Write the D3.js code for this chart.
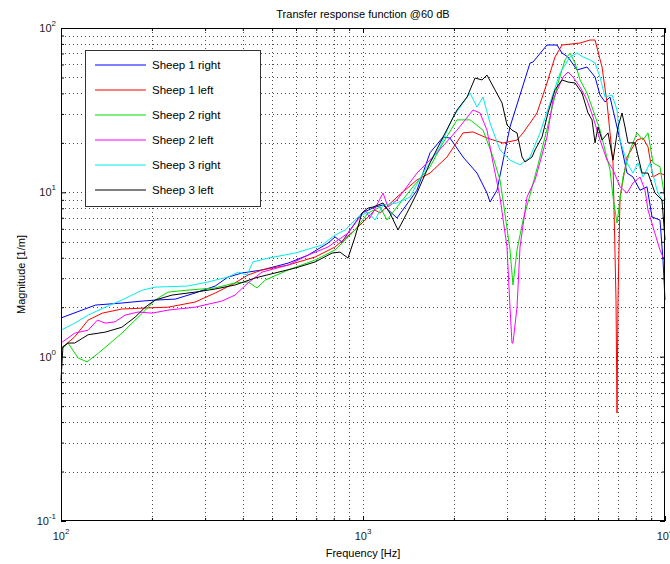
<!DOCTYPE html>
<html>
<head>
<meta charset="utf-8">
<script src="https://cdn.jsdelivr.net/npm/d3@7"></script>
<style>
  body { margin: 0; background: #fff; }
  svg { font-family: "Liberation Sans", Arial, sans-serif; }
</style>
</head>
<body>
<div id="chart"></div>
<script>
// series names and colours (matlab defaults b r g m c k)
var seriesNames = ["Sheep 1 right", "Sheep 1 left", "Sheep 2 right", "Sheep 2 left", "Sheep 3 right", "Sheep 3 left"];
var seriesColors = ["#0000ff", "#ff0000", "#00dd00", "#ff00ff", "#00eeee", "#000000"];

// [frequency Hz, magnitude]
var sheep1Right = [[100,1.72],[130,2.06],[159,2.12],[186,2.18],[205,2.21],[239,2.24],[278,2.44],[324,2.69],[357,3.05],[398,3.23],[463,3.37],[565,3.71],[658,4.15],[766,4.91],[808,5.35],[852,4.99],[892,5.65],[992,7.48],[1096,8.14],[1165,8.37],[1296,6.98],[1509,10.3],[1667,17.4],[1841,21.7],[1941,21.4],[2144,16.4],[2385,13.1],[2574,9.9],[2634,8.73],[2778,10.3],[3067,25],[3573,61.2],[3656,62.1],[4067,78.8],[4390,78.8],[4560,70.4],[4774,66.6],[5114,55.5],[5518,57.9],[5866,50.3],[6093,39.1],[6330,35.5],[6576,38],[7097,20.8],[7486,13.1],[7834,12.4],[8265,10.3],[8718,10.8],[9057,7.08],[9625,6.78],[9849,3.87],[10000,2.21]];
var sheep1Left = [[100,1.12],[111,1.32],[123,1.67],[137,1.84],[159,1.95],[194,1.98],[226,2.0],[278,2.15],[324,2.44],[377,2.81],[416,3.14],[463,3.37],[565,3.61],[694,4.04],[808,4.65],[941,5.9],[1096,7.8],[1139,7.48],[1296,9.36],[1509,11.9],[1667,13.1],[1897,16.4],[2144,23],[2314,23.3],[2574,21.4],[2908,19.95],[3236,20.8],[3388,23],[3573,26.4],[3768,30.4],[4067,46.3],[4323,66.6],[4560,78.8],[5232,81],[5646,84.5],[5866,84.5],[6187,57.9],[6428,35],[6576,23],[6728,15.1],[6884,2.2],[6936,0.454],[6989,2.2],[7097,9.36],[7486,16.4],[8077,20.8],[8456,21.4],[8785,18.9],[9127,12.4],[9625,13.1],[10000,12.7]];
var sheep2Right = [[100,1.10],[105.5,1.21],[114,0.98],[122,0.93],[133,1.05],[159,1.39],[186,1.84],[205,2.21],[226,2.47],[263,2.54],[324,2.62],[377,2.81],[416,2.85],[446,2.62],[474,2.92],[565,3.37],[694,3.87],[808,4.46],[941,5.9],[1039,7.48],[1139,8.14],[1201,6.78],[1296,8.14],[1464,10.8],[1667,14.3],[1841,20],[2048,27.6],[2262,27.6],[2497,23.9],[2695,16.4],[2842,11.9],[2908,8.98],[3067,4.46],[3138,2.73],[3236,4.46],[3388,6.78],[3573,9.64],[3856,16.4],[4161,28.7],[4423,46.3],[4666,63.9],[4847,70.4],[5036,61.2],[5232,48.3],[5518,40.2],[5777,31.7],[6093,23.9],[6330,18.1],[6576,13.7],[6728,9.36],[6936,6.5],[7261,12.4],[7659,18.1],[8077,23],[8456,20.8],[8785,23],[9127,15.1],[9625,14.3],[10000,8.98]];
var sheep2Left = [[100,1.21],[111,1.39],[123,1.45],[132,1.67],[140,1.60],[151,1.63],[163,1.79],[180,1.87],[200,1.84],[226,1.92],[278,2.0],[341,2.18],[377,2.37],[416,2.81],[463,3.27],[565,3.61],[658,4.15],[766,4.65],[892,5.65],[1015,7.8],[1055,6.98],[1165,9.9],[1210,8.14],[1296,8.98],[1509,13.1],[1758,17.4],[2048,23.9],[2314,31.7],[2440,30.4],[2574,23.9],[2695,15.1],[2842,9.36],[2953,5.65],[2998,4.65],[3067,2.0],[3114,1.21],[3138,1.21],[3236,2.0],[3311,4.65],[3491,9.36],[3712,11.9],[3768,13.1],[4067,21.7],[4257,36.5],[4596,50.3],[4774,54],[4960,50.3],[5232,43.7],[5518,36.5],[5777,28.7],[6093,20.8],[6428,15.7],[6728,13.7],[7097,10.8],[7486,9.9],[7834,11.4],[8265,12.4],[8586,10.3],[8785,7.8],[9127,6.15],[9625,4.46],[10000,3.77]];
var sheep3Right = [[100,1.45],[111,1.60],[123,1.79],[140,2.0],[159,2.21],[186,2.54],[205,2.65],[263,2.69],[307,2.85],[357,3.05],[386,3.27],[413,3.14],[432,3.77],[485,3.98],[596,4.27],[732,4.78],[808,5.5],[872,5.9],[963,7.08],[1039,7.59],[1096,6.78],[1165,8.37],[1296,8.61],[1431,9.36],[1580,13.1],[1799,18.9],[1986,28.7],[2144,35],[2262,40.2],[2385,33],[2497,38],[2634,26.4],[2842,18.1],[3067,15.7],[3311,14.7],[3573,16.4],[3856,23],[4161,35],[4491,53.2],[4847,66.6],[5114,70.4],[5353,66.6],[5646,63.9],[5866,61.2],[6093,50.3],[6330,38],[6677,39.1],[6936,31.7],[7097,20.8],[7486,15.1],[7834,13.1],[8139,15.1],[8456,12.4],[8920,15.1],[9409,10.3],[9849,8.61],[10000,8.4]];
var sheep3Left = [[100,0.72],[101.5,1.15],[105.5,1.21],[111,1.21],[123,1.36],[140,1.41],[159,1.51],[176,1.74],[190,2.0],[205,2.21],[233,2.37],[278,2.47],[324,2.58],[377,2.73],[439,3.01],[511,3.23],[596,3.46],[694,3.77],[790,4.27],[839,4.33],[892,3.98],[941,5.35],[992,7.48],[1039,8.02],[1079,8.14],[1165,8.61],[1228,7.48],[1306,5.9],[1398,7.48],[1509,9.9],[1667,15.1],[1841,21.7],[2048,31.7],[2211,38],[2350,49.6],[2478,48.3],[2574,51.7],[2736,42],[2886,35],[2998,25.7],[3114,23.9],[3236,23],[3362,16.4],[3440,15.3],[3628,16.4],[3712,18.1],[3915,21.7],[4098,30.4],[4323,42],[4560,48.3],[4774,46.9],[5036,46.3],[5313,40.2],[5560,30.4],[5733,27.6],[5866,20],[6000,25],[6187,20.8],[6477,23],[6728,15.7],[6989,25],[7206,30.4],[7372,25],[7543,20],[7955,20],[8392,13.1],[8785,13.1],[9267,9.9],[9774,8.98],[10000,5.13]];

var allSeries = [sheep1Right, sheep1Left, sheep2Right, sheep2Left, sheep3Right, sheep3Left];

// tick labels (value, exponent)
var xTickLabels = [[100, "2"], [1000, "3"], [10000, "4"]];
var yTickLabels = [[0.1, "-1"], [1, "0"], [10, "1"], [100, "2"]];

var width = 670, height = 564;
var plotLeft = 61, plotRight = 665, plotTop = 28, plotBottom = 521;

var svg = d3.select("#chart").append("svg")
    .attr("width", width)
    .attr("height", height);

var x = d3.scaleLog().domain([100, 10000]).range([plotLeft, plotRight]);
var y = d3.scaleLog().domain([0.1, 100]).range([plotBottom, plotTop]);

var xMajor = [100, 1000, 10000];
var yMajor = [0.1, 1, 10, 100];
var xAll = x.ticks();
var yAll = y.ticks();

// dotted grid
var grid = svg.append("g").attr("class", "grid")
    .attr("stroke", "#000")
    .attr("stroke-width", 1)
    .attr("stroke-dasharray", "1,3")
    .attr("opacity", 0.7);

grid.selectAll(".gx")
    .data(xAll.filter(function(d) { return d > 100 && d < 10000; }))
    .enter().append("line")
    .attr("x1", function(d) { return Math.round(x(d)) + 0.5; })
    .attr("x2", function(d) { return Math.round(x(d)) + 0.5; })
    .attr("y1", plotTop)
    .attr("y2", plotBottom);

grid.selectAll(".gy")
    .data(yAll.filter(function(d) { return d > 0.1 && d < 100; }))
    .enter().append("line")
    .attr("y1", function(d) { return Math.round(y(d)) + 0.5; })
    .attr("y2", function(d) { return Math.round(y(d)) + 0.5; })
    .attr("x1", plotLeft)
    .attr("x2", plotRight);

// curves
var line = d3.line()
    .x(function(d) { return x(d[0]); })
    .y(function(d) { return y(d[1]); });

svg.append("g").selectAll("path")
    .data(allSeries)
    .enter().append("path")
    .attr("d", line)
    .attr("fill", "none")
    .attr("stroke", function(d, i) { return seriesColors[i]; })
    .attr("stroke-width", 1);

// inward ticks on all four sides, major and minor
function addTicks(axis, values, size, transform) {
  svg.append("g")
      .attr("transform", transform)
      .call(axis.tickValues(values).tickSize(size).tickFormat(""))
      .call(function(g) { g.select(".domain").remove(); });
}
var xMinor = xAll.filter(function(d) { return xMajor.indexOf(d) < 0; });
var yMinor = yAll.filter(function(d) { return yMajor.indexOf(d) < 0; });

addTicks(d3.axisBottom(x), xMajor, -5, "translate(0," + plotBottom + ")");
addTicks(d3.axisBottom(x), xMinor, -3, "translate(0," + plotBottom + ")");
addTicks(d3.axisTop(x), xMajor, -5, "translate(0," + plotTop + ")");
addTicks(d3.axisTop(x), xMinor, -3, "translate(0," + plotTop + ")");
addTicks(d3.axisLeft(y), yMajor, -5, "translate(" + plotLeft + ",0)");
addTicks(d3.axisLeft(y), yMinor, -3, "translate(" + plotLeft + ",0)");
addTicks(d3.axisRight(y), yMajor, -5, "translate(" + plotRight + ",0)");
addTicks(d3.axisRight(y), yMinor, -3, "translate(" + plotRight + ",0)");

// plot box
svg.append("rect")
    .attr("x", plotLeft + 0.5)
    .attr("y", plotTop + 0.5)
    .attr("width", plotRight - plotLeft - 1)
    .attr("height", plotBottom - plotTop - 1)
    .attr("fill", "none")
    .attr("stroke", "#000")
    .attr("stroke-width", 1);

// tick labels with superscripts
var xl = svg.append("g").selectAll("text")
    .data(xTickLabels)
    .enter().append("text")
    .attr("x", function(d) { return x(d[0]); })
    .attr("y", plotBottom + 19)
    .attr("text-anchor", "middle")
    .attr("font-size", 11)
    .attr("fill", "#222");
xl.append("tspan").text("10");
xl.append("tspan").attr("dy", -6).attr("font-size", 8).text(function(d) { return d[1]; });

var yl = svg.append("g").selectAll("text")
    .data(yTickLabels)
    .enter().append("text")
    .attr("x", plotLeft - 5)
    .attr("y", function(d) { return y(d[0]) + 4; })
    .attr("text-anchor", "end")
    .attr("font-size", 11)
    .attr("fill", "#222");
yl.append("tspan").text("10");
yl.append("tspan").attr("dy", -6).attr("font-size", 8).text(function(d) { return d[1]; });

// title and axis labels
svg.append("text")
    .attr("x", (plotLeft + plotRight) / 2)
    .attr("y", 18)
    .attr("text-anchor", "middle")
    .attr("font-size", 11)
    .text("Transfer response function @60 dB");

svg.append("text")
    .attr("x", (plotLeft + plotRight) / 2)
    .attr("y", 557)
    .attr("text-anchor", "middle")
    .attr("font-size", 11)
    .text("Frequency [Hz]");

svg.append("text")
    .attr("transform", "translate(25," + (plotTop + plotBottom) / 2 + ") rotate(-90)")
    .attr("text-anchor", "middle")
    .attr("font-size", 11)
    .text("Magnitude [1/m]");

// legend
var legend = svg.append("g").attr("transform", "translate(85,50)");
legend.append("rect")
    .attr("x", 0.5).attr("y", 0.5)
    .attr("width", 175).attr("height", 156)
    .attr("fill", "#fff")
    .attr("stroke", "#333");

var item = legend.selectAll(".item")
    .data(seriesNames)
    .enter().append("g")
    .attr("class", "item")
    .attr("transform", function(d, i) { return "translate(0," + (15 + i * 25) + ")"; });
item.append("line")
    .attr("x1", 10).attr("x2", 61)
    .attr("y1", 0).attr("y2", 0)
    .attr("stroke-width", 1.2)
    .attr("stroke", function(d) { return seriesColors[seriesNames.indexOf(d)]; });
item.append("text")
    .attr("x", 67)
    .attr("y", 4)
    .attr("font-size", 11.5)
    .text(function(d) { return d; });
</script>
</body>
</html>
